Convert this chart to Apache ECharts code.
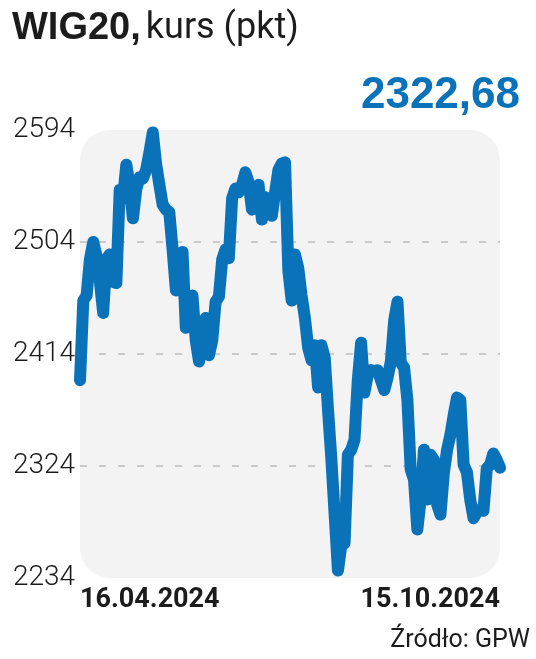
<!DOCTYPE html>
<html>
<head>
<meta charset="utf-8">
<style>
html,body{margin:0;padding:0;background:#fff;}
#c{width:536px;height:659px;}
</style>
<script src="https://cdn.jsdelivr.net/npm/echarts@6/dist/echarts.min.js"></script>
</head>
<body>
<div id="c"></div>
<script>
// WIG20 daily close, 16.04.2024 – 15.10.2024
const values = [
  2393, 2457, 2461, 2490, 2504, 2493, 2473, 2447, 2490, 2494,
  2472, 2471, 2546, 2539, 2566, 2550, 2523, 2546, 2556, 2555,
  2562, 2576, 2592, 2567, 2550, 2534, 2530, 2528, 2498, 2465,
  2488, 2496, 2435, 2457, 2461, 2425, 2408, 2421, 2443, 2413,
  2425, 2456, 2460, 2490, 2498, 2491, 2539, 2547, 2544, 2550,
  2560, 2552, 2530, 2539, 2550, 2522, 2540, 2528, 2525, 2544,
  2562, 2567, 2568, 2481, 2457, 2494, 2483, 2461, 2443, 2419,
  2409, 2421, 2387, 2421, 2411, 2369, 2330, 2285, 2240, 2260,
  2262, 2333, 2337, 2345, 2393, 2423, 2383, 2397, 2401, 2400,
  2401, 2393, 2385, 2395, 2408, 2441, 2456, 2407, 2403, 2377,
  2321, 2313, 2273, 2297, 2337, 2297, 2333, 2329, 2293, 2285,
  2318, 2337, 2349, 2365, 2379, 2377, 2325, 2319, 2297, 2282,
  2287, 2289, 2288, 2322, 2325, 2334, 2329, 2322.68
];
const categories = values.map((v, i) => i);
const xLabels = ['16.04.2024', '15.10.2024'];
const yTicks = [2234, 2324, 2414, 2504, 2594];
const lastValueText = '2322,68';
const titleBold = 'WIG20,';
const titleRest = 'kurs (pkt)';
const sourceText = 'Źródło: GPW';

const BLUE = '#0a72b9';
const INK = '#1c1c1c';

const chart = echarts.init(document.getElementById('c'), null, {renderer: 'canvas'});
chart.setOption({
  animation: false,
  backgroundColor: '#ffffff',
  title: {
    left: 7, top: 5,
    text: '{b|' + titleBold + '} {r|' + titleRest + '}',
    textStyle: {
      rich: {
        b: {fontFamily: 'Liberation Sans', fontWeight: 'bold', fontSize: 38, color: INK},
        r: {fontFamily: 'Roboto', fontWeight: 'normal', fontSize: 36, color: INK}
      }
    }
  },
  graphic: [
    {type: 'rect', z: -10, shape: {x: 80, y: 130, width: 420, height: 448, r: 30},
     style: {fill: '#f3f3f3'}, silent: true},
    {type: 'text', right: 16, top: 74,
     style: {text: lastValueText, fill: BLUE, font: 'bold 44px "Liberation Sans"'}},
    {type: 'text', right: 6, top: 628,
     style: {text: sourceText, fill: INK, font: '25px Roboto'}}
  ],
  grid: {left: 80, right: 36, top: 130, bottom: 81, containLabel: false},
  xAxis: {
    type: 'category',
    data: categories,
    boundaryGap: false,
    axisLine: {show: false},
    axisTick: {show: false},
    splitLine: {show: false},
    axisLabel: {
      show: true,
      interval: 0,
      margin: 9,
      verticalAlign: 'top',
      alignMinLabel: 'left',
      alignMaxLabel: 'right',
      fontFamily: 'Roboto',
      fontWeight: 'bold',
      fontSize: 27,
      color: INK,
      formatter: function (v, i) {
        if (i === 0) return xLabels[0];
        if (i === values.length - 1) return xLabels[1];
        return '';
      }
    }
  },
  yAxis: {
    type: 'value',
    min: yTicks[0],
    max: yTicks[yTicks.length - 1],
    interval: yTicks[1] - yTicks[0],
    axisLine: {show: false},
    axisTick: {show: false},
    splitLine: {
      show: true,
      showMinLine: false,
      showMaxLine: false,
      lineStyle: {color: '#bdbdbd', width: 1.5, type: [7, 12]}
    },
    axisLabel: {
      align: 'left',
      margin: 67,
      fontFamily: 'Roboto',
      fontWeight: 300,
      fontSize: 28,
      color: INK,
      formatter: function (v) { return String(v); }
    }
  },
  series: [{
    type: 'line',
    data: values,
    symbol: 'none',
    smooth: false,
    clip: false,
    lineStyle: {color: BLUE, width: 12, cap: 'round', join: 'round'}
  }]
});
</script>
</body>
</html>
